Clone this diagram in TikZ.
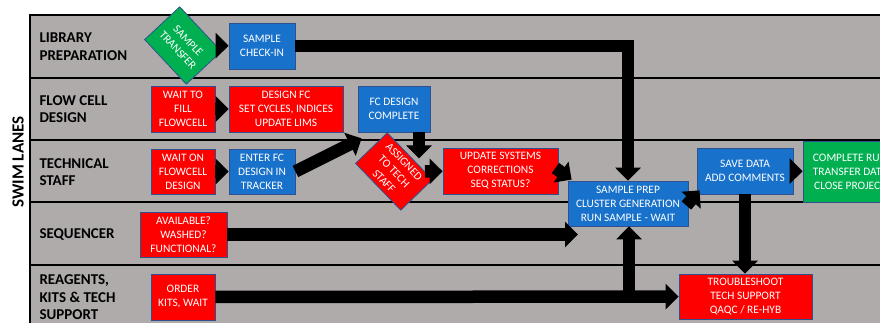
\documentclass[tikz,border=0pt]{standalone}
\usepackage{fontspec}
\setmainfont{Carlito}
\usepackage{tikz}
\usetikzlibrary{positioning,arrows.meta}
\definecolor{lanegray}{RGB}{175,171,171}
\definecolor{boxblue}{RGB}{24,114,204}
\definecolor{boxred}{RGB}{255,0,0}
\definecolor{boxgreen}{RGB}{0,176,80}
\definecolor{edgeblue}{RGB}{47,82,143}

\begin{document}
\begin{tikzpicture}[x=1pt, y=-1pt,
  every node/.style={font=\fontsize{11.4}{14}\selectfont},
  bx/.style={draw=edgeblue, line width=0.8pt, text=white, align=center, inner sep=0pt},
  bl/.style={bx, fill=boxblue}, rd/.style={bx, fill=boxred}, gr/.style={bx, fill=boxgreen},
  lane/.style={anchor=west, align=left, font=\fontsize{15}{17.5}\selectfont\bfseries},
  blk/.style={line width=12.5pt, -{Triangle[length=13pt,width=25pt]}}]
\useasboundingbox (0,0) rectangle (880,322);
\clip (0,0) rectangle (880,322);
% lanes
\fill[lanegray] (30,15) rectangle (900,340);
\draw[line width=1.3pt] (900,15) -- (30,15) -- (30,340);
\foreach \y in {78,140,202,265} \draw[line width=1.3pt] (30,\y) -- (900,\y);
\node[rotate=90, font=\fontsize{17}{19}\selectfont\bfseries] (sl) at (18,162) {SWIM LANES};
\node[lane] (l1) at (36,46.5) {LIBRARY\\PREPARATION};
\node[lane] (l2) at (36,109) {FLOW CELL\\DESIGN};
\node[lane] (l3) at (36,172) {TECHNICAL\\STAFF};
\node[lane] (l4) at (36,235) {SEQUENCER};
\node[lane] (l5) at (36,297.5) {REAGENTS,\\KITS \& TECH\\SUPPORT};
% boxes
\node[gr, rotate=-47, minimum width=61, minimum height=48] (xfer) at (183,45.5) {SAMPLE\\TRANSFER};
\node[bl, minimum width=66, minimum height=46] (chk) at (262,46) {SAMPLE\\CHECK-IN};
\node[rd, minimum width=64, minimum height=46] (wfill) at (183,109) {WAIT TO\\FILL\\FLOWCELL};
\node[rd, minimum width=114, minimum height=46] (dsgn) at (286,109) {DESIGN FC\\SET CYCLES, INDICES\\UPDATE LIMS};
\node[bl, minimum width=72, minimum height=46] (fcd) at (394,109) {FC DESIGN\\COMPLETE};
\node[rd, minimum width=64, minimum height=45] (wfc) at (183,171.5) {WAIT ON\\FLOWCELL\\DESIGN};
\node[bl, minimum width=66, minimum height=45] (trk) at (262,171.5) {ENTER FC\\DESIGN IN\\TRACKER};
\node[rd, rotate=-46, minimum width=65, minimum height=44] (asg) at (394,171.5) {ASSIGNED\\TO TECH\\STAFF};
\node[rd, minimum width=115, minimum height=46] (upd) at (500.5,171) {UPDATE SYSTEMS\\CORRECTIONS\\SEQ STATUS?};
\node[bl, minimum width=120, minimum height=45] (prep) at (628,203.5) {SAMPLE PREP\\CLUSTER GENERATION\\RUN SAMPLE - WAIT};
\node[rd, minimum width=87, minimum height=45] (avl) at (183.5,234.5) {AVAILABLE?\\WASHED?\\FUNCTIONAL?};
\node[rd, minimum width=64, minimum height=46] (ord) at (183,297) {ORDER\\KITS, WAIT};
\node[rd, minimum width=133, minimum height=45] (trb) at (745.5,296.5) {TROUBLESHOOT\\TECH SUPPORT\\QAQC / RE-HYB};
\node[bl, minimum width=96, minimum height=46] (save) at (745,171) {SAVE DATA\\ADD COMMENTS};
\node[gr, minimum width=94, minimum height=61] (cmpl) at (850,171.5) {COMPLETE RUN\\TRANSFER DATA\\CLOSE PROJECT};
% free ends
\coordinate (avlend) at (578,234.5);
\coordinate (jn) at (629,297);
% arrows
\draw[blk] (xfer) -- (chk);
\draw[blk] (chk.east) -| (prep.north);
\draw[blk] (wfill) -- (dsgn);
\draw[blk] (wfc) -- (trk);
\draw[blk] (trk.east) -- ([shift={(4,6)}]fcd.south west);
\draw[blk] ([xshift=25pt]fcd.south) -- ++(0,26);
\draw[blk] (asg) -- (upd);
\draw[blk] ([shift={(-3,-3)}]upd.east) -- ([shift={(4,-1)}]prep.north west);
\draw[blk] ([shift={(-2,2)}]prep.east) -- ([shift={(3,-4)}]save.south west);
\draw[blk] (save) -- (cmpl);
\draw[blk] (save.south) -- (save.south |- trb.north);
\draw[blk] (avl) -- (avlend);
\draw[blk] (ord) -- (trb);
\draw[blk] (jn) -- (jn |- prep.south);
\end{tikzpicture}
\end{document}
